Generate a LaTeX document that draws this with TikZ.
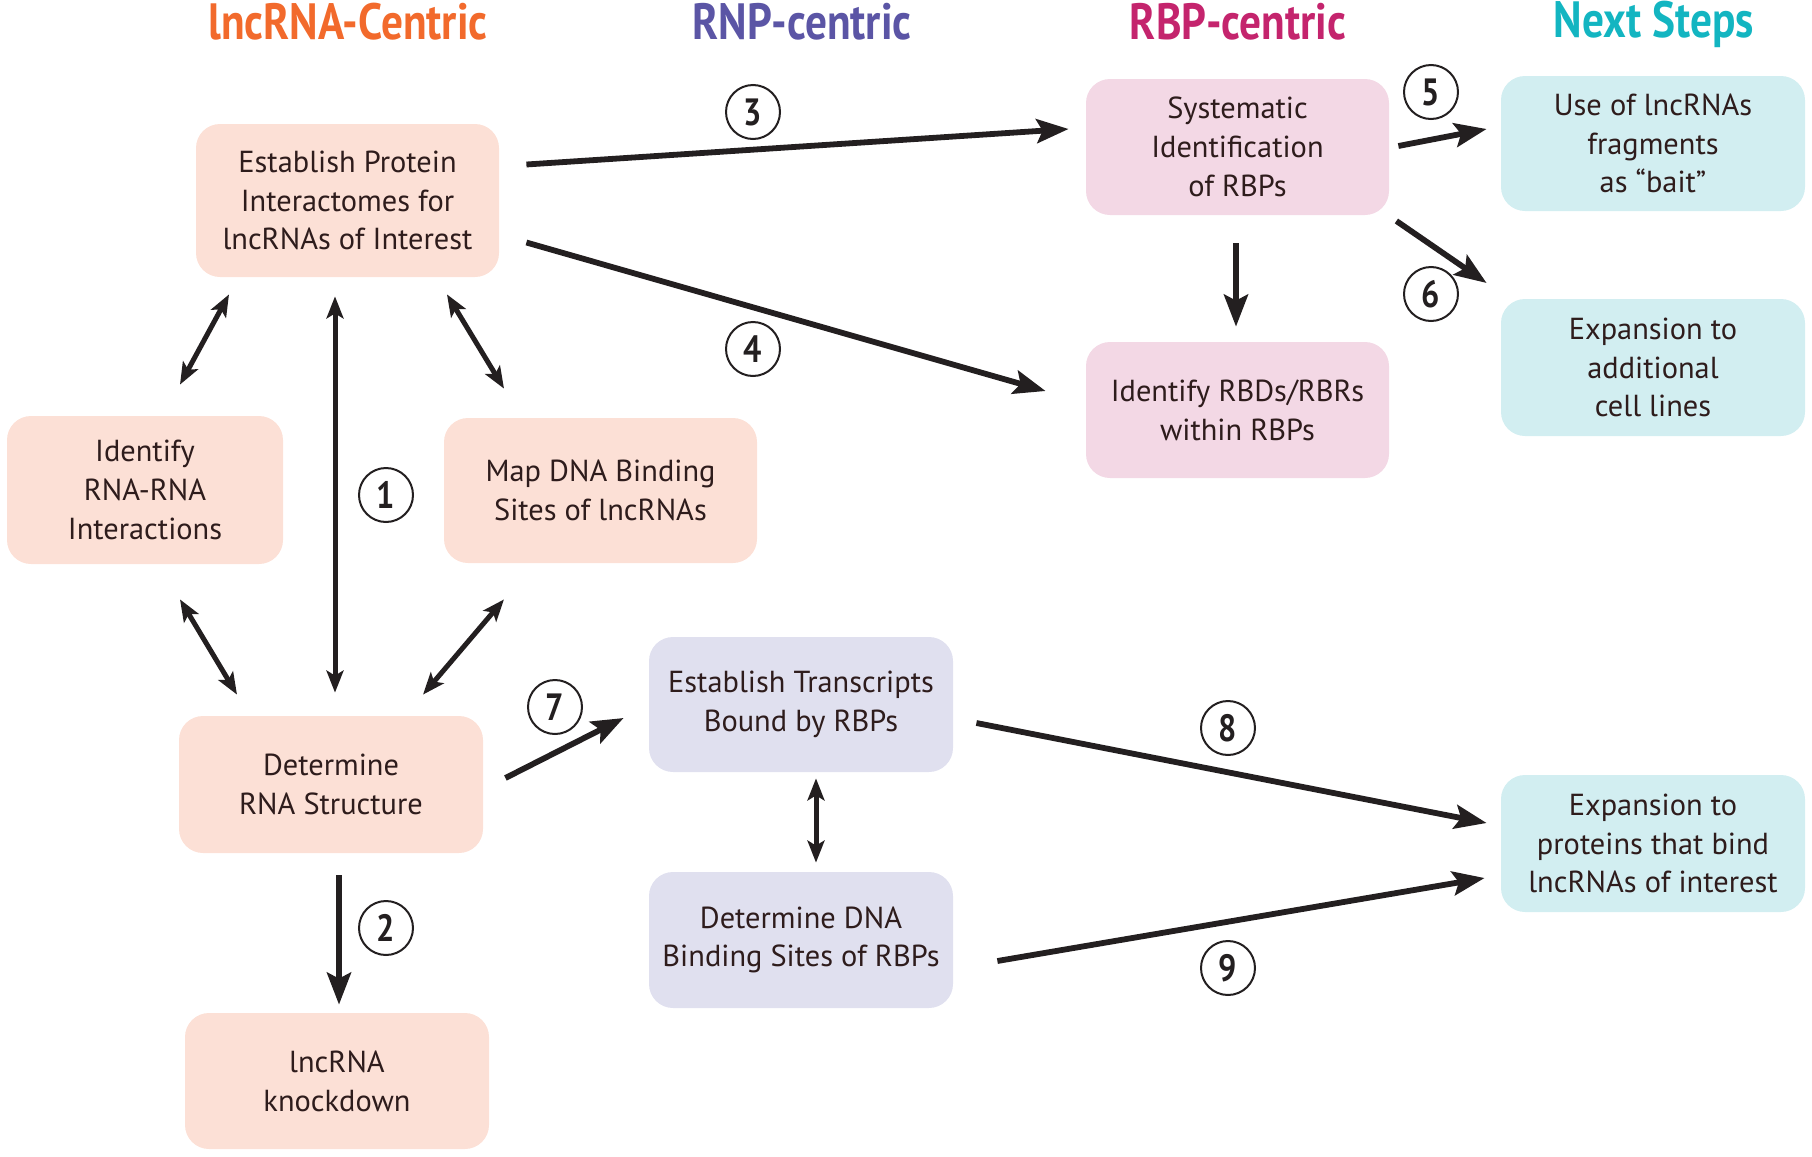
\documentclass[tikz,border=0pt]{standalone}
\usepackage{fontspec}
\setmainfont{PT Sans}
\newfontfamily\titlefont[FakeStretch=0.85]{PT Sans Bold}
\newfontfamily\numfont[FakeStretch=0.85]{PT Sans Bold}
\usetikzlibrary{arrows.meta,calc}
\definecolor{peach}{HTML}{FCE0D6}
\definecolor{pinkbox}{HTML}{F3D8E5}
\definecolor{lavbox}{HTML}{E0E0EF}
\definecolor{cyanbox}{HTML}{D2EEF1}
\definecolor{txt}{HTML}{2E1C1C}
\definecolor{arr}{HTML}{231F20}
\definecolor{tOrange}{HTML}{F26A2C}
\definecolor{tPurple}{HTML}{5B55A5}
\definecolor{tMagenta}{HTML}{C4246D}
\definecolor{tCyan}{HTML}{13B5C1}
\tikzset{
  box/.style={rounded corners=12pt, inner sep=0pt, align=center, text=txt,
    font=\fontsize{15.2}{19.4}\selectfont},
  ttl/.style={font=\titlefont\fontsize{25.5}{28}\selectfont},
  num/.style={circle, draw=arr, line width=1pt, minimum size=27pt, inner sep=0pt,
    font=\numfont\fontsize{19}{20}\selectfont, text=arr},
  one/.style={draw=arr, line width=2.9pt, -{Stealth[length=16pt,width=12pt,inset=3pt]}},
  two/.style={draw=arr, line width=2.5pt, {Stealth[length=11pt,width=8.5pt,inset=2.5pt]}-{Stealth[length=11pt,width=8.5pt,inset=2.5pt]}}
}
\begin{document}
\begin{tikzpicture}[x=0.5pt,y=-0.5pt]
\useasboundingbox (0,0) rectangle (1812,1157);
% titles
\node[ttl, text=tOrange] (t1) at (348,22) {lncRNA-Centric};
\node[ttl, text=tPurple] (t2) at (802,22) {RNP-centric};
\node[ttl, text=tMagenta] (t3) at (1238,22) {RBP-centric};
\node[ttl, text=tCyan] (t4) at (1654,24) {Next Steps};
% boxes
\node[box, fill=peach, minimum width=151.5pt, minimum height=76.5pt] (ep) at (347.5,200.5)
  {Establish Protein\\Interactomes for\\lncRNAs of Interest};
\node[box, fill=peach, minimum width=138pt, minimum height=74pt] (rr) at (145,490)
  {Identify\\RNA-RNA\\Interactions};
\node[box, fill=peach, minimum width=156.5pt, minimum height=72.5pt] (md) at (600.5,490.5)
  {Map DNA Binding\\Sites of lncRNAs};
\node[box, fill=peach, minimum width=152pt, minimum height=68.5pt] (rs) at (331,784.5)
  {Determine\\RNA Structure};
\node[box, fill=peach, minimum width=152pt, minimum height=68pt] (kd) at (337,1081)
  {lncRNA\\knockdown};
\node[box, fill=pinkbox, minimum width=151.5pt, minimum height=68pt] (sy) at (1237.5,147)
  {Systematic\\Identification\\of RBPs};
\node[box, fill=pinkbox, minimum width=151.5pt, minimum height=68pt] (rb) at (1237.5,410)
  {Identify RBDs/RBRs\\within RBPs};
\node[box, fill=lavbox, minimum width=152pt, minimum height=67.5pt] (et) at (801,704.5)
  {Establish Transcripts\\Bound by RBPs};
\node[box, fill=lavbox, minimum width=152pt, minimum height=68pt] (dd) at (801,940)
  {Determine DNA\\Binding Sites of RBPs};
\node[box, fill=cyanbox, minimum width=152pt, minimum height=67.5pt] (us) at (1653,143.5)
  {Use of lncRNAs\\fragments\\as “bait”};
\node[box, fill=cyanbox, minimum width=152pt, minimum height=68.5pt] (cl) at (1653,367.5)
  {Expansion to\\additional\\cell lines};
\node[box, fill=cyanbox, minimum width=152pt, minimum height=68.5pt] (px) at (1653,843.5)
  {Expansion to\\proteins that bind\\lncRNAs of interest};
% arrows
\draw[one] ($(ep.east)+(27,-36)$) -- ($(sy.west)+(-17,-18)$);
\draw[one] ($(ep.east)+(27,42)$) -- ($(rb.west)+(-40,-19)$);
\draw[one] ($(sy.east)+(9,-1)$) -- ($(us.west)+(-14,-14.5)$);
\draw[one] ($(sy.east)+(7,74)$) -- ($(cl.west)+(-14,-84.5)$);
\draw[one] ($(sy.south)+(-1.5,28)$) -- ($(rb.north)+(-1.5,-15)$);
\draw[two] ($(ep.south)+(-12.5,19)$) -- ($(rs.north)+(4,-23)$);
\draw[two] ($(ep.south)+(-118.5,17)$) -- ($(rr.north)+(35,-31)$);
\draw[two] ($(ep.south)+(99.5,17)$) -- ($(md.north)+(-96.5,-29)$);
\draw[two] ($(rr.south)+(35,35)$) -- ($(rs.north)+(-94,-21)$);
\draw[two] ($(md.south)+(-96.5,36)$) -- ($(rs.north)+(92,-21)$);
\draw[one] ($(rs.east)+(22,-6.5)$) -- ($(et.west)+(-25,13.5)$);
\draw[one] ($(rs.south)+(8,22)$) -- ($(kd.north)+(2,-8)$);
\draw[two] ($(et.south)+(15,6)$) -- ($(dd.north)+(15,-9)$);
\draw[one] ($(et.east)+(23,18.5)$) -- ($(px.west)+(-14,-20.5)$);
\draw[one] ($(dd.east)+(44,21)$) -- ($(px.west)+(-16,34.5)$);
% number labels
\node[num] (c1) at (386,495) {1};
\node[num] (c2) at (386,928) {2};
\node[num] (c3) at (753,112) {3};
\node[num] (c4) at (753,349) {4};
\node[num] (c5) at (1431,92) {5};
\node[num] (c6) at (1431,294) {6};
\node[num] (c7) at (555,707) {7};
\node[num] (c8) at (1228,728) {8};
\node[num] (c9) at (1228,968) {9};
\end{tikzpicture}
\end{document}
